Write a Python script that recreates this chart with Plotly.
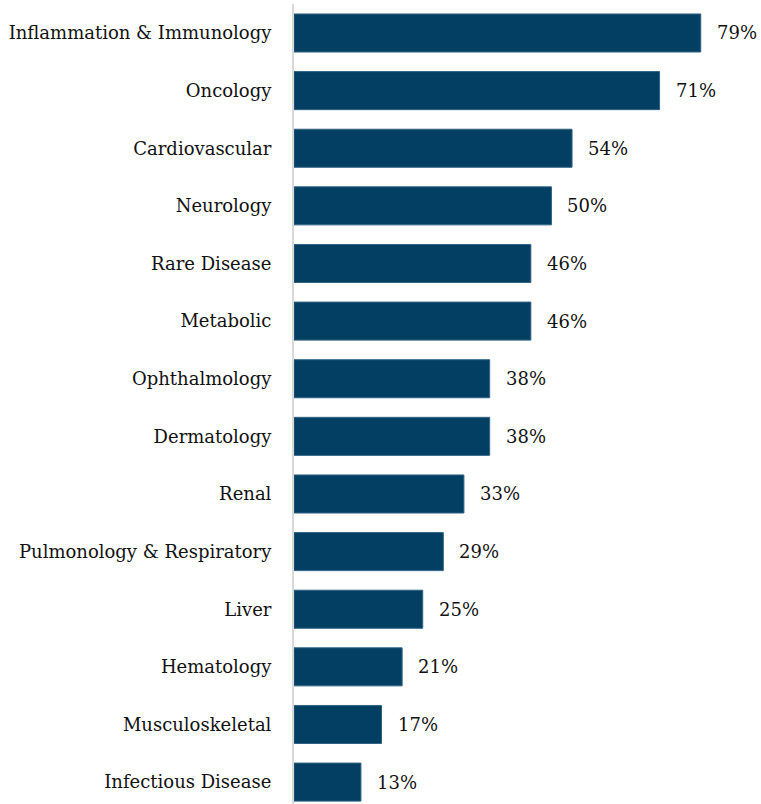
import plotly.graph_objects as go

categories = [
    "Inflammation & Immunology", "Oncology", "Cardiovascular", "Neurology",
    "Rare Disease", "Metabolic", "Ophthalmology", "Dermatology", "Renal",
    "Pulmonology & Respiratory", "Liver", "Hematology", "Musculoskeletal",
    "Infectious Disease",
]
values = [79, 71, 54, 50, 46, 46, 38, 38, 33, 29, 25, 21, 17, 13]
value_labels = [f"{v}%" for v in values]

BAR = "#033f63"
FONT = "DejaVu Serif"
TEXT = "#111111"
positions = list(range(len(categories)))

fig = go.Figure(
    go.Bar(
        x=values,
        y=positions,
        orientation="h",
        width=0.66,
        marker=dict(color=BAR, line=dict(color="#2f6384", width=1)),
        hoverinfo="skip",
    )
)

for p, v, lab in zip(positions, values, value_labels):
    fig.add_annotation(
        x=v, y=p, text=lab, showarrow=False, xanchor="left", xshift=14,
        font=dict(family=FONT, size=18, color=TEXT),
    )

fig.update_layout(
    width=761, height=804,
    margin=dict(l=294, r=0, t=4, b=0),
    paper_bgcolor="white", plot_bgcolor="white",
    showlegend=False,
    xaxis=dict(range=[0, 90.7], visible=False, fixedrange=True),
    yaxis=dict(
        range=[13.38, -0.503],
        tickmode="array", tickvals=positions, ticktext=categories,
        showgrid=False, zeroline=False, ticks="",
        showline=True, linecolor="#d9d9d9", linewidth=2,
        ticklabelstandoff=17,
        tickfont=dict(family=FONT, size=18, color=TEXT),
    ),
)

fig.write_html("out.html")
